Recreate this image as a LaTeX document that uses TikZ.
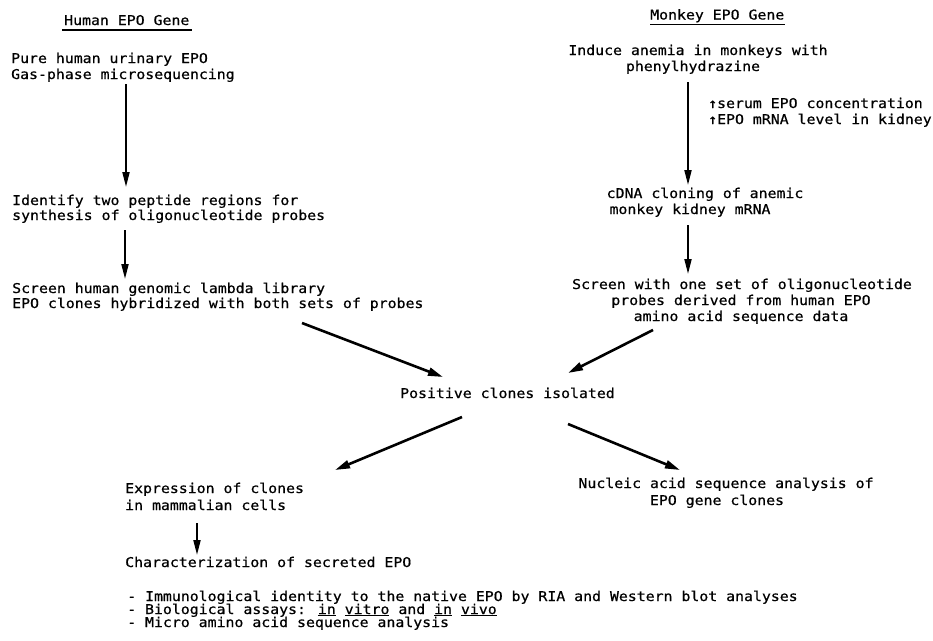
\documentclass[tikz,border=0pt]{standalone}
\usepackage{fontspec}
\newfontfamily\tw[FakeStretch=1.1,FakeBold=0.6]{DejaVu Sans Mono}
\usetikzlibrary{arrows.meta,calc}
\begin{document}
\begin{tikzpicture}[x=1pt,y=-1pt,
  txt/.style={inner sep=0pt, font=\tw\fontsize{13.5}{16}\selectfont},
  lt/.style={txt, anchor=base west},
  ct/.style={txt, anchor=base},
  arr/.style={line width=1.9pt, -{Triangle[length=15pt,width=7pt]}},
  darr/.style={line width=2.6pt, -{Triangle[length=15pt,width=8pt]}}]
\useasboundingbox (0,0) rectangle (933,640);
% titles
\node[lt] (ht) at (64,25) {Human EPO Gene};
\node[lt] (mt) at (650,19.5) {Monkey EPO Gene};
\draw[line width=1.5pt] ($(ht.base west)+(-2,5)$) -- ($(ht.base east)+(2,5)$);
\draw[line width=1pt] ($(mt.base west)+(0,5)$) -- ($(mt.base east)+(0,5)$);
% human column
\node[lt] (p1) at (11,63) {Pure human urinary EPO};
\node[lt] (p2) at (11,79) {Gas-phase microsequencing};
\node[lt] (i1) at (12,205) {Identify two peptide regions for};
\node[lt] (i2) at (12,220) {synthesis of oligonucleotide probes};
\node[lt] (s1) at (12,293) {Screen human genomic lambda library};
\node[lt] (s2) at (12,308) {EPO clones hybridized with both sets of probes};
% monkey column
\node[ct] (m1) at (698,55) {Induce anemia in monkeys with};
\node[ct] (m2) at (693,71) {phenylhydrazine};
\node[lt] (u1) at (708,108) {↑serum EPO concentration};
\node[lt] (u2) at (708,124) {↑EPO mRNA level in kidney};
\node[ct] (c1) at (705,198) {cDNA cloning of anemic};
\node[ct] (c2) at (690,214) {monkey kidney mRNA};
\node[ct] (w1) at (742,289) {Screen with one set of oligonucleotide};
\node[ct] (w2) at (741,305) {probes derived from human EPO};
\node[ct] (w3) at (741,321) {amino acid sequence data};
% centre and bottom
\node[lt] (pc) at (400,398) {Positive clones isolated};
\node[lt] (e1) at (125,493) {Expression of clones};
\node[lt] (e2) at (125,510) {in mammalian cells};
\node[ct] (n1) at (726,488) {Nucleic acid sequence analysis of};
\node[ct] (n2) at (717,505) {EPO gene clones};
\node[lt] (ch) at (125,567) {Characterization of secreted EPO};
\node[lt] (b1) at (127,601) {- Immunological identity to the native EPO by RIA and Western blot analyses};
\node[lt] (b2) at (127,614) {- Biological assays: \underline{in} \underline{vitro} and \underline{in} \underline{vivo}};
\node[lt] (b3) at (127,627) {- Micro amino acid sequence analysis};
% x positions of vertical arrows
\coordinate (hx) at (126,0);
\coordinate (hx2) at (125,0);
\coordinate (mx) at (688,0);
\coordinate (ex) at (197,0);
% vertical arrows
\draw[arr, shorten <=5pt, shorten >=18pt] (p2.base -| hx) -- (i1.base -| hx);
\draw[arr, shorten <=10pt, shorten >=14pt] (i2.base -| hx2) -- (s1.base -| hx2);
\draw[arr, shorten <=11pt, shorten >=13pt] (m2.base -| mx) -- (c1.base -| mx);
\draw[arr, shorten <=11pt, shorten >=15pt] (c2.base -| mx) -- (w1.base -| mx);
\draw[arr, shorten <=13pt, shorten >=12pt] (e2.base -| ex) -- (ch.base -| ex);
% diagonal arrows
\draw[darr] ($(s2.base west)+(290,15)$) -- ($(pc.base west)+(43,-21)$);
\draw[darr] ($(w3.base)+(-88,9)$) -- ($(pc.base west)+(168,-25)$);
\draw[darr] ($(pc.base west)+(62,19)$) -- ($(e1.base west)+(210,-23)$);
\draw[darr] ($(pc.base west)+(168,26)$) -- ($(n1.base)+(-46,-18)$);
\end{tikzpicture}
\end{document}
